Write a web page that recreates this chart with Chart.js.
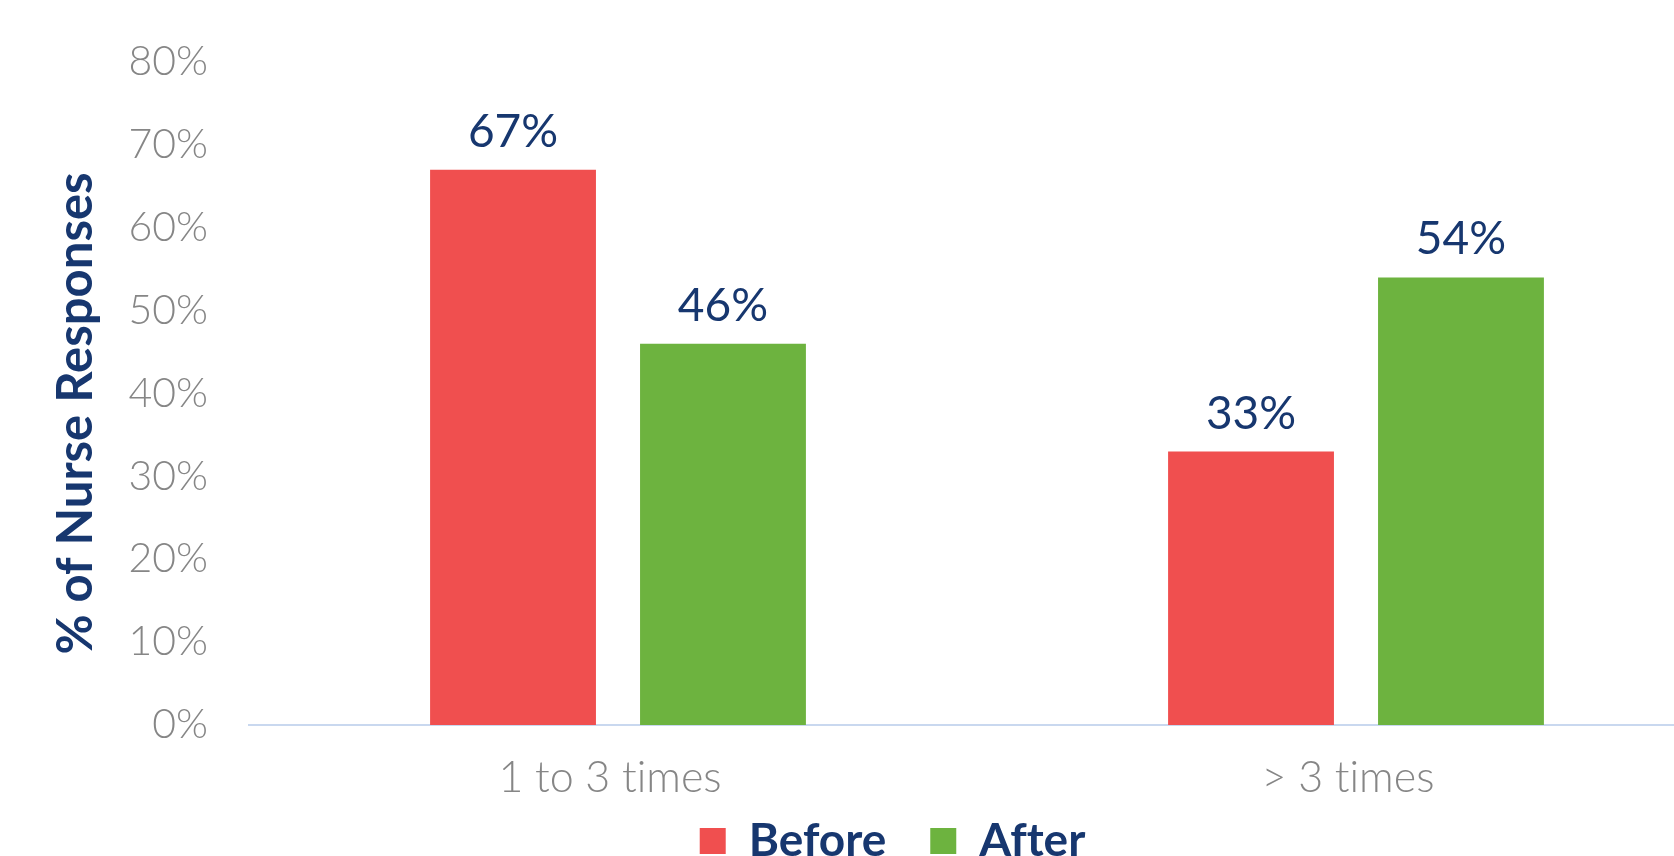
<!DOCTYPE html>
<html>
<head>
<meta charset="utf-8">
<script src="https://cdn.jsdelivr.net/npm/chart.js@4.4.1/dist/chart.umd.min.js"></script>
<style>
    html, body {
        margin: 0;
        padding: 0;
        background: #ffffff;
        overflow: hidden;
    }
    #wrap {
        position: absolute;
        left: 0;
        top: 0;
        width: 1784px;
        height: 910px;
    }
</style>
</head>
<body>
<div id="wrap">
    <canvas id="nurseChart" width="1784" height="910"></canvas>
</div>
<script>
// Chart data
const categories = ['1 to 3 times', '> 3 times'];
const beforeValues = [67, 33];
const afterValues = [46, 54];
const yTicks = [0, 10, 20, 30, 40, 50, 60, 70, 80];
const yTitle = '% of Nurse Responses';

const NAVY = '#17376f';
const GRAY = '#868686';

// No "ti" ligature in tick labels
const plainText = {
    id: 'plainText',
    beforeDraw(chart) {
        chart.ctx.textRendering = 'optimizeSpeed';
    }
};

// Pull the legend a bit closer to the axis labels
const legendShift = {
    id: 'legendShift',
    afterLayout(chart) {
        if (chart.legend) {
            chart.legend.top -= 30;
            chart.legend.bottom -= 30;
        }
    }
};

// Draw the value above each bar
const valueLabels = {
    id: 'valueLabels',
    afterDatasetsDraw(chart) {
        const ctx = chart.ctx;
        ctx.save();
        ctx.font = 'normal 46px Lato';
        ctx.fillStyle = NAVY;
        ctx.textAlign = 'center';
        ctx.textBaseline = 'alphabetic';
        chart.data.datasets.forEach((ds, i) => {
            chart.getDatasetMeta(i).data.forEach((bar, j) => {
                ctx.fillText(ds.data[j] + '%', bar.x, bar.y - 23);
            });
        });
        ctx.restore();
    }
};

// Rotated y axis title
const yAxisTitle = {
    id: 'yAxisTitle',
    afterDraw(chart) {
        const ctx = chart.ctx;
        const area = chart.chartArea;
        ctx.save();
        ctx.translate(76, (area.top + area.bottom) / 2 + 20);
        ctx.rotate(-Math.PI / 2);
        ctx.font = 'bold 49px Lato';
        ctx.fillStyle = NAVY;
        ctx.textAlign = 'center';
        ctx.textBaseline = 'middle';
        ctx.fillText(yTitle, 0, 0);
        ctx.restore();
    }
};

const ctx = document.getElementById('nurseChart').getContext('2d');
new Chart(ctx, {
    type: 'bar',
    data: {
        labels: categories,
        datasets: [{
            label: 'Before',
            data: beforeValues,
            backgroundColor: '#f04f4f'
        }, {
            label: 'After',
            data: afterValues,
            backgroundColor: '#6db33f'
        }]
    },
    options: {
        responsive: false,
        animation: false,
        events: [],
        categoryPercentage: 0.569,
        barPercentage: 0.79,
        layout: {
            padding: { top: 62, left: 59, right: 59, bottom: 6 }
        },
        plugins: {
            legend: {
                position: 'bottom',
                labels: {
                    font: { family: 'Lato', size: 46, weight: 'bold' },
                    color: NAVY,
                    boxWidth: 26,
                    boxHeight: 26,
                    padding: 44
                }
            },
            tooltip: { enabled: false }
        },
        scales: {
            x: {
                afterFit(scale) {
                    scale.height = 79;
                },
                grid: { display: false, drawTicks: false },
                border: { display: true, color: '#c9d8ef', width: 2 },
                ticks: {
                    color: GRAY,
                    padding: 27,
                    labelOffset: -8,
                    font: { family: 'Lato', size: 43, weight: 300, lineHeight: 1.2 }
                }
            },
            y: {
                min: 0,
                max: 80,
                afterFit(scale) {
                    scale.width = 190;
                    scale.paddingTop = 0;
                },
                afterBuildTicks(scale) {
                    scale.ticks = yTicks.map(v => ({ value: v }));
                },
                grid: { display: false, drawTicks: false },
                border: { display: false },
                ticks: {
                    color: GRAY,
                    padding: 41,
                    font: { family: 'Lato', size: 41, weight: 300 },
                    callback: v => v + '%'
                }
            }
        }
    },
    plugins: [plainText, legendShift, valueLabels, yAxisTitle]
});
</script>
</body>
</html>
